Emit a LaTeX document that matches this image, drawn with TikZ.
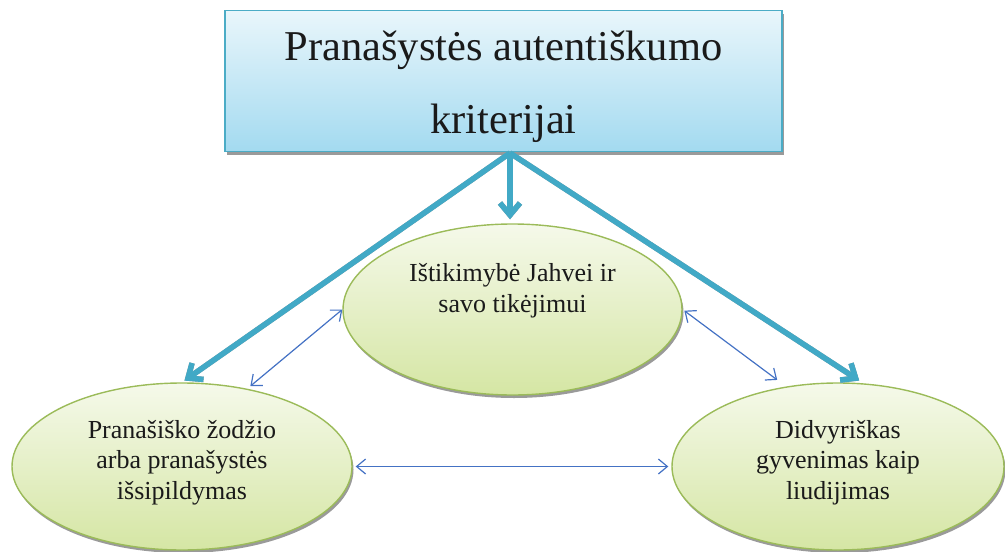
\documentclass[tikz,border=0pt]{standalone}
\usepackage{fontspec}
\setmainfont{Liberation Serif}
\usetikzlibrary{shapes.geometric,arrows.meta,shadows}
\definecolor{boxtop}{HTML}{E9F6FB}
\definecolor{boxbot}{HTML}{A3DAF0}
\definecolor{boxline}{HTML}{4BACC6}
\definecolor{elltop}{HTML}{F5F9EA}
\definecolor{ellbot}{HTML}{D5E6A4}
\definecolor{ellline}{HTML}{9BBB59}
\definecolor{thickblue}{HTML}{41A9C6}
\definecolor{thinblue}{HTML}{4472C4}
\definecolor{shadegray}{HTML}{9A9A9A}
\definecolor{inktext}{HTML}{1A1A1A}
\begin{document}
\begin{tikzpicture}[x=1pt,y=-1pt,
  titlebox/.style={rectangle, draw=boxline, line width=1.2pt, top color=boxtop, bottom color=boxbot,
    minimum width=557pt, minimum height=141pt, inner sep=0pt,
    drop shadow={shadow xshift=1.5pt, shadow yshift=-3pt, fill=shadegray, opacity=1}},
  crit/.style={ellipse, draw=ellline, line width=1.4pt, top color=elltop, bottom color=ellbot,
    inner sep=0pt,
    drop shadow={shadow xshift=1.5pt, shadow yshift=-3pt, fill=shadegray, opacity=1}},
  crittext/.style={font=\fontsize{26}{30.5}\selectfont, align=center, text=inktext},
  bigarrow/.style={draw=thickblue, line width=5.5pt, line cap=butt,
    -{Straight Barb[length=12pt, width=20pt]}},
  bigshadow/.style={draw=shadegray, line width=5.5pt, xshift=1.5pt, yshift=-2pt,
    -{Straight Barb[length=12pt, width=20pt]}},
  thinarrow/.style={draw=thinblue, line width=1.2pt,
    {Straight Barb[length=9pt, width=15pt]}-{Straight Barb[length=9pt, width=15pt]}}
]
\useasboundingbox (0,0) rectangle (1005,552);

\node[titlebox,
  label={[font=\fontsize{42.5}{73}\selectfont, align=center, text=inktext, yshift=-5pt]center:{Pranašystės autentiškumo\\kriterijai}}]
  (title) at (503.5,81.3) {};

\node[crit, minimum width=339pt, minimum height=171pt,
  label={[crittext, yshift=19pt]center:{Ištikimybė Jahvei ir\\savo tikėjimui}}]
  (top) at (512.5,309.5) {};
\node[crit, minimum width=340pt, minimum height=167pt,
  label={[crittext, yshift=4pt]center:{Pranašiško žodžio\\arba pranašystės\\išsipildymas}}]
  (left) at (182,466.5) {};
\node[crit, minimum width=332pt, minimum height=167pt,
  label={[crittext, yshift=4pt]center:{Didvyriškas\\gyvenimas kaip\\liudijimas}}]
  (right) at (838,466.5) {};

\coordinate (src) at (510,153);

% shadows of thick arrows
\draw[bigshadow, shorten >=3pt] (src) -- (left.north);
\draw[bigshadow, shorten >=5pt] (src) -- (right.73);
\draw[bigshadow, shorten >=4pt] (src) -- (src |- top.north);
% thick arrows
\draw[bigarrow, shorten >=3pt] (src) -- (left.north);
\draw[bigarrow, shorten >=5pt] (src) -- (right.73);
\draw[bigarrow, shorten >=4pt] (src) -- (src |- top.north);

% thin double arrows
\draw[thinarrow, shorten <=4pt] (left.50) -- (top.west);
\draw[thinarrow, shorten <=2pt, shorten >=11pt] (top.east) -- (right.123);
\draw[thinarrow, shorten <=3pt, shorten >=3pt] (left.east) -- (right.west);
\end{tikzpicture}
\end{document}
